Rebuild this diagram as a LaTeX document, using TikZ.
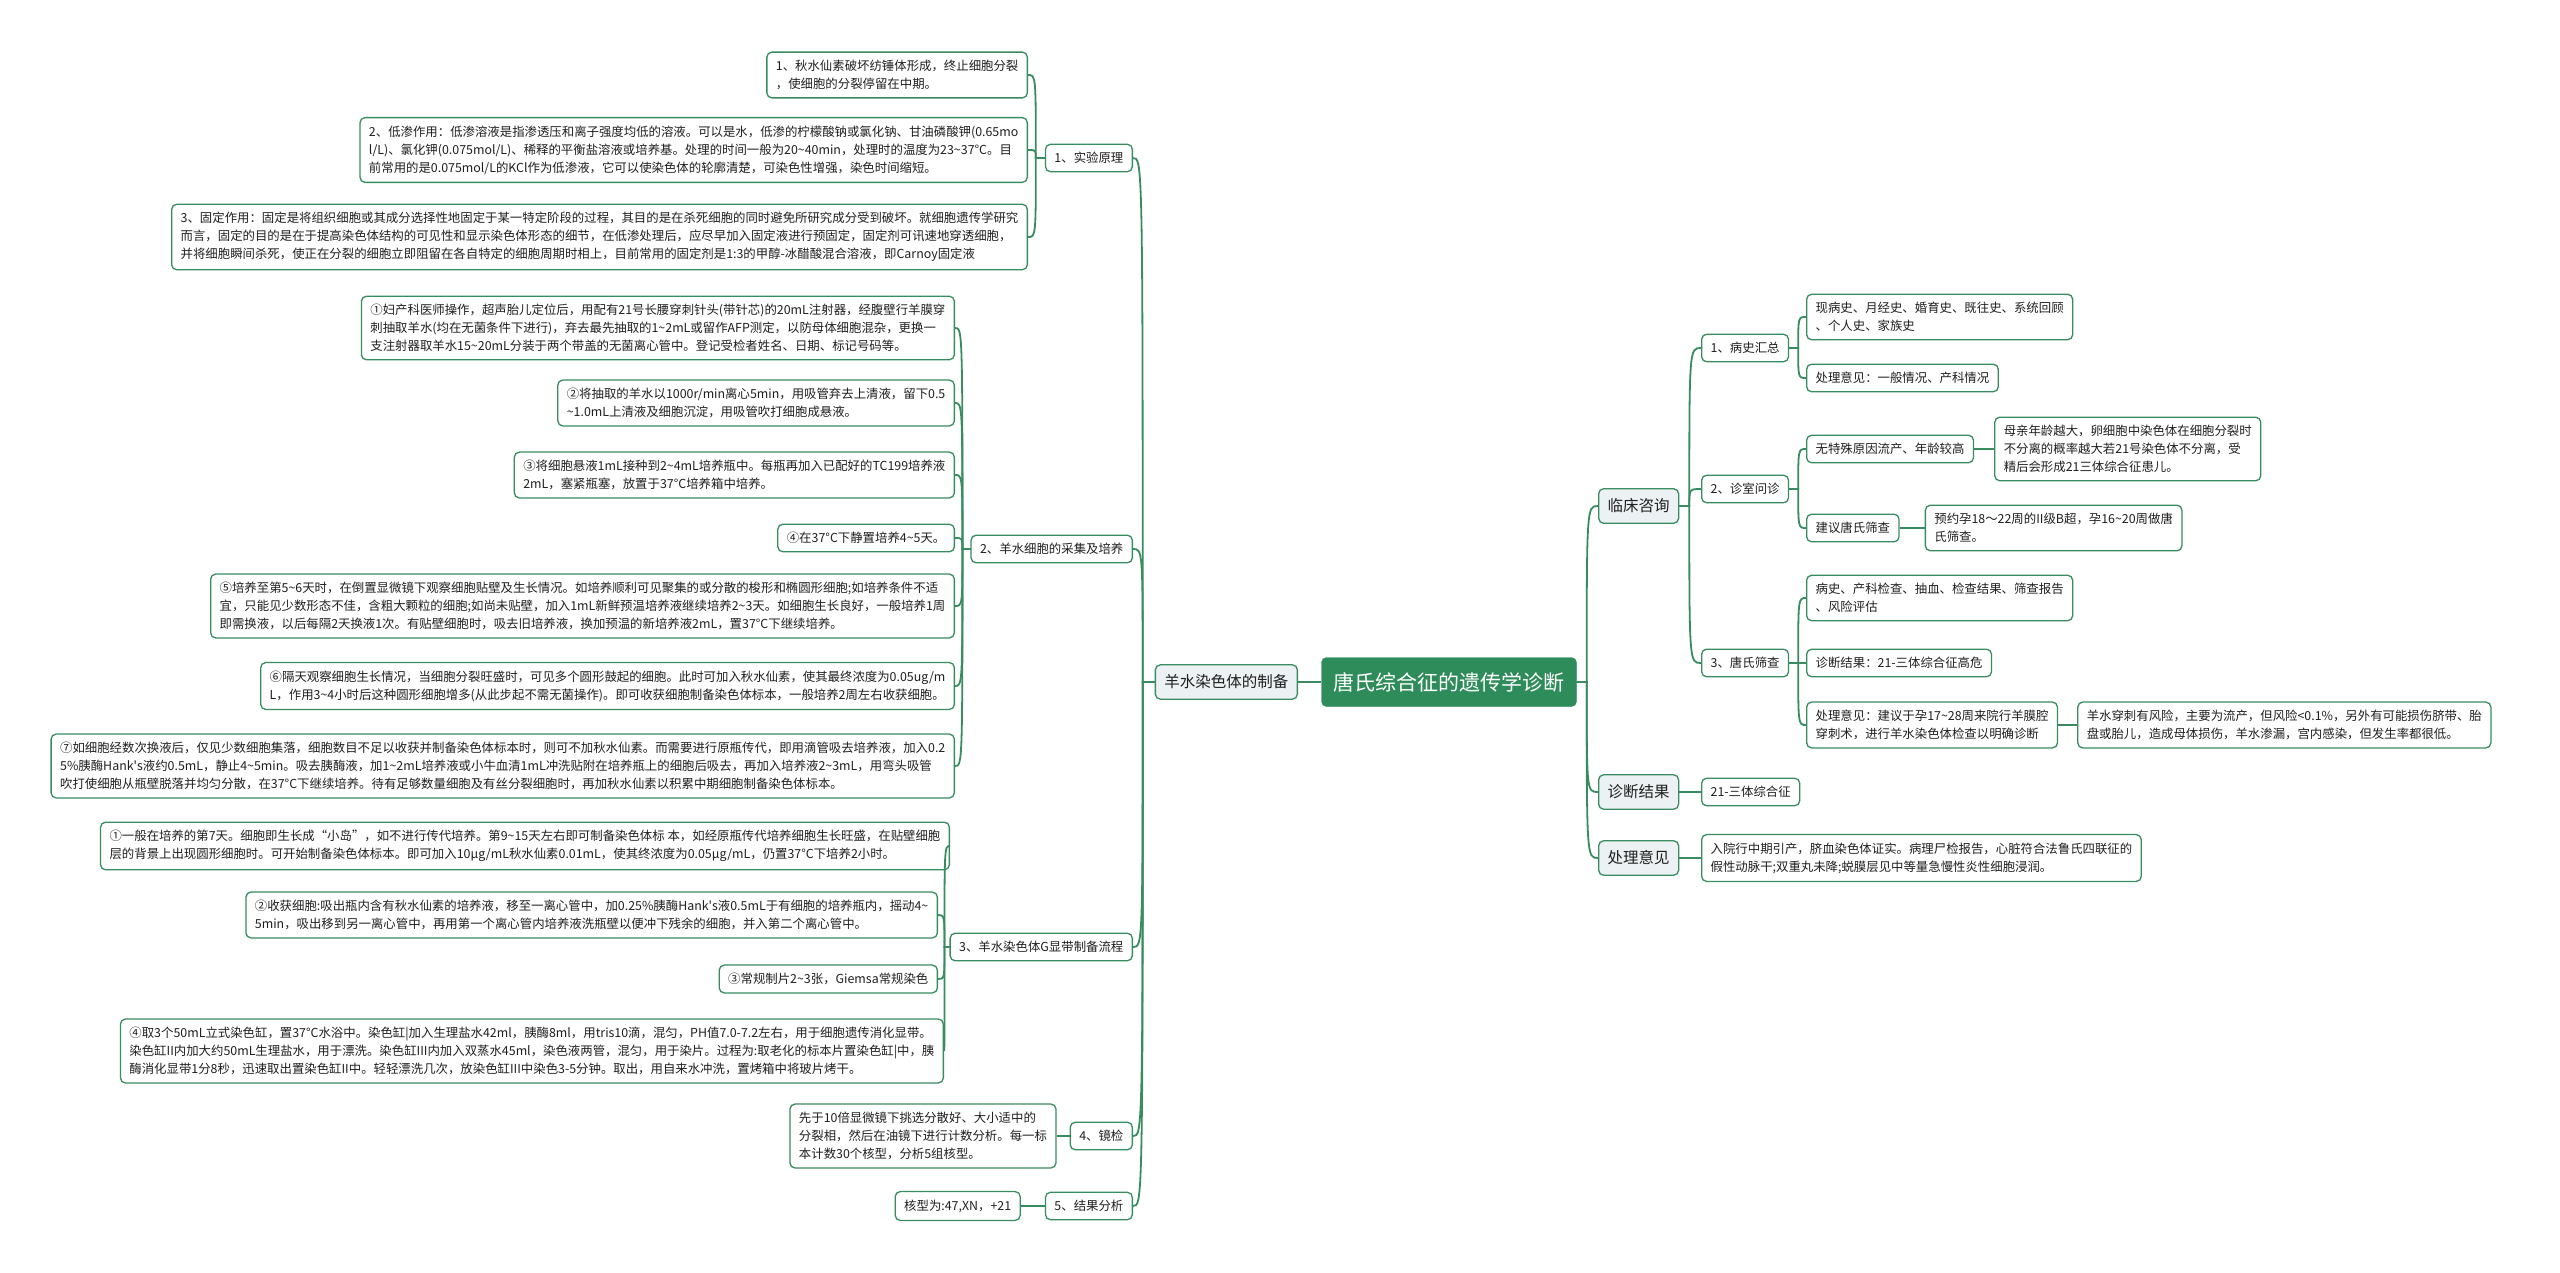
\documentclass[tikz,border=0pt]{standalone}
\usepackage{fontspec}
\setmainfont{Noto Sans CJK SC}
\definecolor{lc}{RGB}{56,140,96}
\definecolor{rootc}{RGB}{46,139,90}
\definecolor{lonefill}{RGB}{236,241,243}
\newcommand\tld{\textasciitilde}
\newcommand\apo{\textquotesingle}
\newcommand\mmR[3][10]{\draw[conn] (#2.east) -- ++(#1,0) coordinate (tmpc) .. controls (tmpc |- #3.west) .. (#3.west);}
\newcommand\mmL[3][10]{\draw[conn] (#2.west) -- ++(-#1,0) coordinate (tmpc) .. controls (tmpc |- #3.east) .. (#3.east);}
\tikzset{
  conn/.style={draw=lc, line width=1.8pt},
  box/.style={draw=lc, line width=1.3pt, rounded corners=5pt, fill=white, inner xsep=9pt, inner ysep=8pt, align=left, text=black!88, font=\fontsize{12.4}{18}\selectfont},
  topic/.style={box, fill=lonefill, font=\fontsize{15.5}{20}\selectfont, inner ysep=10pt},
  rootbox/.style={draw=rootc, fill=rootc, text=white, rounded corners=5pt, font=\fontsize{21}{26}\selectfont, inner xsep=12pt, minimum height=49pt}
}
\begin{document}
\begin{tikzpicture}[x=1pt,y=-1pt]
\fill[white] (0,0) rectangle (2560,1273);
\useasboundingbox (0,0) rectangle (2560,1273);

% root and main topics
\node[rootbox] (root) at (1449,682) {唐氏综合征的遗传学诊断};
\node[topic, anchor=east] (yang) at (1298,682) {羊水染色体的制备};
\node[topic, anchor=west] (clin) at (1598,506) {临床咨询};
\node[topic, anchor=west] (diag) at (1598,792) {诊断结果};
\node[topic, anchor=west] (treat) at (1598,858) {处理意见};

% right side
\node[box, anchor=west] (bs) at (1701,348) {1、病史汇总};
\node[box, anchor=west] (zs) at (1701,489) {2、诊室问诊};
\node[box, anchor=west] (ts) at (1701,663) {3、唐氏筛查};
\node[box, anchor=west] (bs1) at (1806,317) {现病史、月经史、婚育史、既往史、系统回顾\\、个人史、家族史};
\node[box, anchor=west] (bs2) at (1806,378) {处理意见：一般情况、产科情况};
\node[box, anchor=west] (zs1) at (1806,449) {无特殊原因流产、年龄较高};
\node[box, anchor=west] (zs1a) at ([xshift=20pt]zs1.east) {母亲年龄越大，卵细胞中染色体在细胞分裂时\\不分离的概率越大若21号染色体不分离，受\\精后会形成21三体综合征患儿。};
\node[box, anchor=west] (zs2) at (1806,528) {建议唐氏筛查};
\node[box, anchor=west] (zs2a) at ([xshift=25pt]zs2.east) {预约孕18～22周的II级B超，孕16\tld 20周做唐\\氏筛查。};
\node[box, anchor=west] (ts1) at (1806,598) {病史、产科检查、抽血、检查结果、筛查报告\\、风险评估};
\node[box, anchor=west] (ts2) at (1806,663) {诊断结果：21-三体综合征高危};
\node[box, anchor=west] (ts3) at (1806,725) {处理意见：建议于孕17\tld 28周来院行羊膜腔\\穿刺术，进行羊水染色体检查以明确诊断};
\node[box, anchor=west] (ts3a) at ([xshift=19pt]ts3.east) {羊水穿刺有风险，主要为流产，但风险<0.1\%，另外有可能损伤脐带、胎\\盘或胎儿，造成母体损伤，羊水渗漏，宫内感染，但发生率都很低。};
\node[box, anchor=west] (diag1) at (1701,792) {21-三体综合征};
\node[box, anchor=west] (treat1) at (1701,858) {入院行中期引产，脐血染色体证实。病理尸检报告，心脏符合法鲁氏四联征的\\假性动脉干;双重丸未降;蜕膜层见中等量急慢性炎性细胞浸润。};

% left side level 2
\node[box, anchor=east] (l1) at (1133,158) {1、实验原理};
\node[box, anchor=east] (l2) at (1133,549) {2、羊水细胞的采集及培养};
\node[box, anchor=east] (l3) at (1133,947) {3、羊水染色体G显带制备流程};
\node[box, anchor=east] (l4) at (1133,1136) {4、镜检};
\node[box, anchor=east] (l5) at (1133,1206) {5、结果分析};

% 1
\node[box, anchor=east] (n1) at (1028,75) {1、秋水仙素破坏纺锤体形成，终止细胞分裂\\，使细胞的分裂停留在中期。};
\node[box, anchor=east] (n2) at (1028,150) {2、低渗作用：低渗溶液是指渗透压和离子强度均低的溶液。可以是水，低渗的柠檬酸钠或氯化钠、甘油磷酸钾(0.65mo\\l/L)、氯化钾(0.075mol/L)、稀释的平衡盐溶液或培养基。处理的时间一般为20\tld 40min，处理时的温度为23\tld 37°C。目\\前常用的是0.075mol/L的KCl作为低渗液，它可以使染色体的轮廓清楚，可染色性增强，染色时间缩短。};
\node[box, anchor=east] (n3) at (1028,237) {3、固定作用：固定是将组织细胞或其成分选择性地固定于某一特定阶段的过程，其目的是在杀死细胞的同时避免所研究成分受到破坏。就细胞遗传学研究\\而言，固定的目的是在于提高染色体结构的可见性和显示染色体形态的细节，在低渗处理后，应尽早加入固定液进行预固定，固定剂可讯速地穿透细胞，\\并将细胞瞬间杀死，使正在分裂的细胞立即阻留在各自特定的细胞周期时相上，目前常用的固定剂是1:3的甲醇-冰醋酸混合溶液，即Carnoy固定液};

% 2
\node[box, anchor=east] (s1) at (955,328) {①妇产科医师操作，超声胎儿定位后，用配有21号长腰穿刺针头(带针芯)的20mL注射器，经腹壁行羊膜穿\\刺抽取羊水(均在无菌条件下进行)，弃去最先抽取的1\tld 2mL或留作AFP测定，以防母体细胞混杂，更换一\\支注射器取羊水15\tld 20mL分装于两个带盖的无菌离心管中。登记受检者姓名、日期、标记号码等。};
\node[box, anchor=east] (s2) at (955,403) {②将抽取的羊水以1000r/min离心5min，用吸管弃去上清液，留下0.5\\\tld 1.0mL上清液及细胞沉淀，用吸管吹打细胞成悬液。};
\node[box, anchor=east] (s3) at (955,475) {③将细胞悬液1mL接种到2\tld 4mL培养瓶中。每瓶再加入已配好的TC199培养液\\2mL，塞紧瓶塞，放置于37°C培养箱中培养。};
\node[box, anchor=east] (s4) at (955,538) {④在37°C下静置培养4\tld 5天。};
\node[box, anchor=east] (s5) at (955,606) {⑤培养至第5\tld 6天时，在倒置显微镜下观察细胞贴壁及生长情况。如培养顺利可见聚集的或分散的梭形和椭圆形细胞;如培养条件不适\\宜，只能见少数形态不佳，含粗大颗粒的细胞;如尚未贴壁，加入1mL新鲜预温培养液继续培养2\tld 3天。如细胞生长良好，一般培养1周\\即需换液，以后每隔2天换液1次。有贴壁细胞时，吸去旧培养液，换加预温的新培养液2mL，置37°C下继续培养。};
\node[box, anchor=east] (s6) at (955,686) {⑥隔天观察细胞生长情况，当细胞分裂旺盛时，可见多个圆形鼓起的细胞。此时可加入秋水仙素，使其最终浓度为0.05ug/m\\L，作用3\tld 4小时后这种圆形细胞增多(从此步起不需无菌操作)。即可收获细胞制备染色体标本，一般培养2周左右收获细胞。};
\node[box, anchor=east] (s7) at (955,766) {⑦如细胞经数次换液后，仅见少数细胞集落，细胞数目不足以收获并制备染色体标本时，则可不加秋水仙素。而需要进行原瓶传代，即用滴管吸去培养液，加入0.2\\5\%胰酶Hank\apo s液约0.5mL，静止4\tld 5min。吸去胰酶液，加1\tld 2mL培养液或小牛血清1mL冲洗贴附在培养瓶上的细胞后吸去，再加入培养液2\tld 3mL，用弯头吸管\\吹打使细胞从瓶壁脱落并均匀分散，在37°C下继续培养。待有足够数量细胞及有丝分裂细胞时，再加秋水仙素以积累中期细胞制备染色体标本。};

% 3
\node[box, anchor=east] (g1) at (950,846) {①一般在培养的第7天。细胞即生长成“小岛”，如不进行传代培养。第9\tld 15天左右即可制备染色体标 本，如经原瓶传代培养细胞生长旺盛，在贴壁细胞\\层的背景上出现圆形细胞时。可开始制备染色体标本。即可加入10μg/mL秋水仙素0.01mL，使其终浓度为0.05μg/mL，仍置37°C下培养2小时。};
\node[box, anchor=east] (g2) at (938,915) {②收获细胞:吸出瓶内含有秋水仙素的培养液，移至一离心管中，加0.25\%胰酶Hank\apo s液0.5mL于有细胞的培养瓶内，摇动4\tld\\5min，吸出移到另一离心管中，再用第一个离心管内培养液洗瓶壁以便冲下残余的细胞，并入第二个离心管中。};
\node[box, anchor=east] (g3) at (938,979) {③常规制片2\tld 3张，Giemsa常规染色};
\node[box, anchor=east] (g4) at (944,1051) {④取3个50mL立式染色缸，置37°C水浴中。染色缸|加入生理盐水42ml，胰酶8ml，用tris10滴，混匀，PH值7.0-7.2左右，用于细胞遗传消化显带。\\染色缸II内加大约50mL生理盐水，用于漂洗。染色缸III内加入双蒸水45ml，染色液两管，混匀，用于染片。过程为:取老化的标本片置染色缸|中，胰\\酶消化显带1分8秒，迅速取出置染色缸II中。轻轻漂洗几次，放染色缸III中染色3-5分钟。取出，用自来水冲洗，置烤箱中将玻片烤干。};

% 4, 5
\node[box, anchor=east] (l4a) at ([xshift=-13pt]l4.west) {先于10倍显微镜下挑选分散好、大小适中的\\分裂相，然后在油镜下进行计数分析。每一标\\本计数30个核型，分析5组核型。};
\node[box, anchor=east] (l5a) at ([xshift=-24pt]l5.west) {核型为:47,XN，+21};

% connectors
\mmL{root}{yang}
\mmR{root}{clin}
\mmR{root}{diag}
\mmR{root}{treat}
\foreach \c in {l1,l2,l3,l4,l5} {\mmL[12]{yang}{\c}}
\foreach \c in {n1,n2,n3} {\mmL[9]{l1}{\c}}
\foreach \c in {s1,s2,s3,s4,s5,s6,s7} {\mmL[8]{l2}{\c}}
\foreach \c in {g1,g2,g3,g4} {\mmL[5]{l3}{\c}}
\mmL[6]{l4}{l4a}
\mmL[12]{l5}{l5a}
\foreach \c in {bs,zs,ts} {\mmR{clin}{\c}}
\foreach \c in {bs1,bs2} {\mmR[9]{bs}{\c}}
\foreach \c in {zs1,zs2} {\mmR[9]{zs}{\c}}
\foreach \c in {ts1,ts2,ts3} {\mmR[9]{ts}{\c}}
\mmR[10]{zs1}{zs1a}
\mmR[12]{zs2}{zs2a}
\mmR[9]{ts3}{ts3a}
\mmR[11]{diag}{diag1}
\mmR[11]{treat}{treat1}
\end{tikzpicture}
\end{document}
